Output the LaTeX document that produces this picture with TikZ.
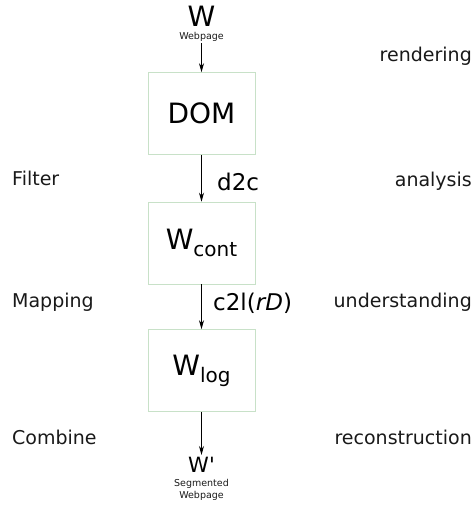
\documentclass[tikz,border=0pt]{standalone}
\usepackage{fontspec}
\setmainfont{DejaVu Sans}
\usetikzlibrary{arrows.meta}
\definecolor{boxline}{RGB}{200,225,200}
\definecolor{labeltext}{RGB}{25,25,25}
\begin{document}
\begin{tikzpicture}[x=1pt,y=-1pt,
  stagebox/.style={draw=boxline,line width=0.6pt,minimum width=107pt,minimum height=82pt,inner sep=0pt},
  flow/.style={-{Stealth[length=9pt,width=5pt]},line width=0.8pt,black},
  sidelabel/.style={font=\fontsize{19}{19}\selectfont,text=labeltext,inner sep=0pt},
  steplabel/.style={font=\fontsize{23}{23}\selectfont,inner sep=0pt,anchor=west},
  tiny/.style={font=\fontsize{9.5}{12.5}\selectfont,inner sep=0pt,align=center,text=labeltext}]
\useasboundingbox (0,0) rectangle (476,506);

% input page
\node[font=\fontsize{28}{28}\selectfont,inner sep=0pt,anchor=base] (w) at (201.5,26) {W};
\node[tiny,anchor=north] (wp) at (201.5,32) {Webpage};

% processing stages
\node[stagebox] (dom) at (201.5,113.5) {\fontsize{28}{28}\selectfont DOM};
\node[stagebox] (cont) at (201.5,243) {\fontsize{28}{28}\selectfont W\raisebox{-7pt}{\fontsize{20}{20}\selectfont cont}};
\node[stagebox] (log) at (201.5,370.5) {\fontsize{28}{28}\selectfont W\raisebox{-7pt}{\fontsize{20}{20}\selectfont log}};

% output page
\node[font=\fontsize{21}{21}\selectfont,inner sep=0pt,anchor=base] (wout) at (201.5,472) {W\textquotesingle};
\node[tiny,anchor=north] (sw) at (201.5,479) {Segmented\\Webpage};

% connectors
\draw[flow] (wp.south |- 0,43) coordinate (wtop) -- (dom.north);
\draw[flow] (dom.south) -- (cont.north);
\draw[flow] (cont.south) -- (log.north);
\draw[flow] (log.south) -- (wout.north |- 0,455) coordinate (wend);

\node[steplabel] (d2c) at (217,182) {d2c};
\node[steplabel] (c2l) at (213,303) {c2l(\textit{rD})};

% left column
\node[sidelabel,anchor=base west] (filter) at (12,185) {Filter};
\node[sidelabel,anchor=base west] (mapping) at (12,307) {Mapping};
\node[sidelabel,anchor=base west] (combine) at (12,444) {Combine};

% right column
\node[sidelabel,anchor=base east] (rendering) at (472,61) {rendering};
\node[sidelabel,anchor=base east] (analysis) at (472,186) {analysis};
\node[sidelabel,anchor=base east] (understanding) at (472,307) {understanding};
\node[sidelabel,anchor=base east] (reconstruction) at (472,444) {reconstruction};
\end{tikzpicture}
\end{document}
